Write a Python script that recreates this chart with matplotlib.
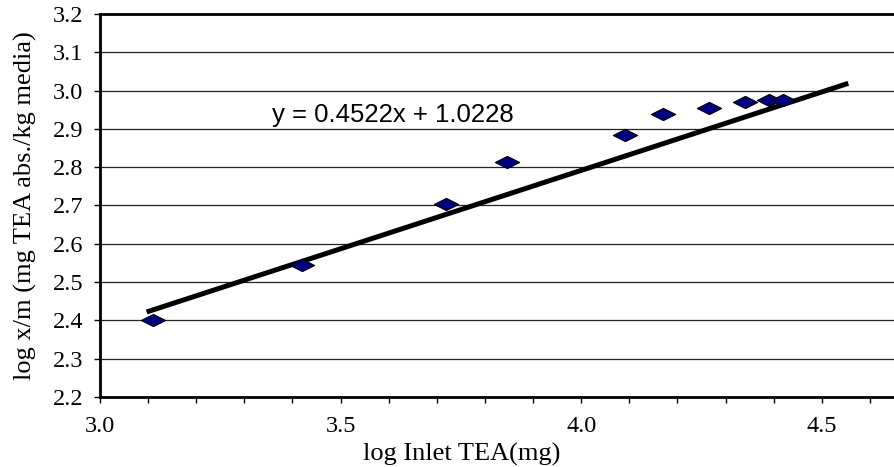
import numpy as np
from matplotlib import pyplot as plt
from matplotlib.path import Path
from matplotlib.ticker import MultipleLocator, FormatStrFormatter

log_inlet = [3.11, 3.42, 3.72, 3.845, 4.09, 4.17, 4.265, 4.34, 4.39, 4.42]
log_xm = [2.40, 2.545, 2.705, 2.813, 2.884, 2.938, 2.955, 2.970, 2.975, 2.975]

# trend line as drawn (end points)
trend_x = [3.097, 4.555]
trend_y = [2.422, 3.019]
equation = "y = 0.4522x + 1.0228"

plt.rcParams["font.family"] = ["Liberation Serif", "DejaVu Serif"]

fig = plt.figure(figsize=(8.94, 4.67), dpi=100)
ax = fig.add_axes([100 / 894, 1 - 397 / 467, 794 / 894, 383 / 467])

# flat diamond marker like the excel one
diamond = Path([(-1, 0), (0, 0.5), (1, 0), (0, -0.5), (-1, 0)],
               [Path.MOVETO, Path.LINETO, Path.LINETO, Path.LINETO, Path.CLOSEPOLY])

ax.plot(trend_x, trend_y, color="black", lw=3.6, solid_capstyle="butt", zorder=3)
ax.plot(log_inlet, log_xm, ls="none", marker=diamond, ms=17.5,
        mfc="#000080", mec="black", mew=0.8, zorder=4)

ax.text(3.358, 2.937, equation, family=["Liberation Sans", "DejaVu Sans"],
        fontsize=18.5, ha="left", va="center")

ax.set_xlim(3.0, 4.65)
ax.set_ylim(2.2, 3.2)
ax.xaxis.set_major_locator(MultipleLocator(0.5))
ax.xaxis.set_minor_locator(MultipleLocator(0.1))
ax.yaxis.set_major_locator(MultipleLocator(0.1))
ax.xaxis.set_major_formatter(FormatStrFormatter("%.1f"))
ax.yaxis.set_major_formatter(FormatStrFormatter("%.1f"))

ax.tick_params(axis="both", which="both", direction="out", length=4, width=1,
               labelsize=17.5, colors="black")
ax.tick_params(axis="x", which="major", pad=10)
ax.tick_params(axis="y", which="major", pad=8)

ax.grid(axis="y", color="#222222", lw=0.9)
ax.set_axisbelow(True)

for s in ["left", "bottom", "top"]:
    ax.spines[s].set_linewidth(2)
ax.spines["right"].set_visible(False)

ax.set_xlabel("log Inlet TEA(mg)", fontsize=19)
ax.xaxis.set_label_coords(0.456, -0.12)
ax.set_ylabel("log x/m (mg TEA abs./kg media)", fontsize=19)
ax.yaxis.set_label_coords(-0.079, 0.5)

plt.savefig("out.png", dpi=100)
